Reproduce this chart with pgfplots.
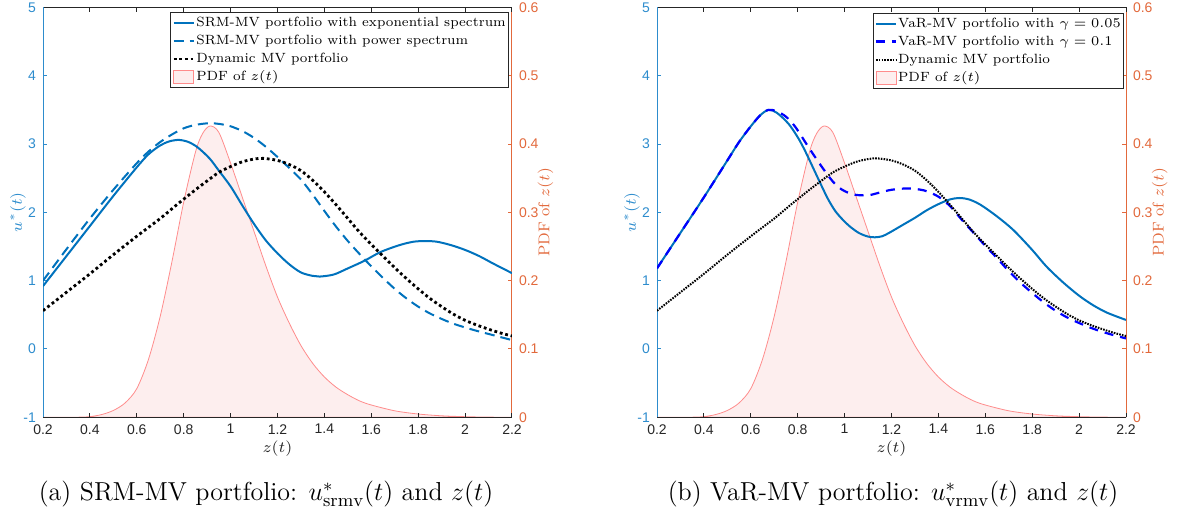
\RequirePackage{fix-cm}
\documentclass[border=0pt]{standalone}
\usepackage{fontspec}
\newfontfamily\helv{Liberation Sans}
\usepackage{pgfplots}
\usepackage{pgfplotstable}
\pgfplotsset{compat=1.18}

\definecolor{mblue}{rgb}{0,0.447,0.741}
\definecolor{axblue}{RGB}{45,140,205}
\definecolor{axorange}{RGB}{226,105,60}
\definecolor{axgray}{RGB}{38,38,38}
\definecolor{pdffill}{RGB}{253,238,238}
\definecolor{pdfedge}{RGB}{255,140,140}

\newcommand\tickfont{\helv\fontsize{7}{8}\selectfont}
\newcommand\labfont{\fontsize{7.8}{9}\selectfont}
\newcommand\legfont{\fontsize{6.7}{8}\selectfont}
\newcommand\capfont{\fontsize{13}{15}\selectfont}

% density of z(t)
\pgfplotstableread{
x y
0.20 0
0.35 0.0002
0.40 0.001
0.45 0.004
0.50 0.010
0.55 0.021
0.60 0.042
0.65 0.085
0.70 0.148
0.75 0.228
0.80 0.315
0.85 0.388
0.88 0.415
0.912 0.4264
0.95 0.417
1.00 0.372
1.05 0.322
1.10 0.272
1.15 0.222
1.20 0.176
1.25 0.138
1.30 0.105
1.35 0.079
1.40 0.059
1.45 0.044
1.50 0.033
1.55 0.024
1.60 0.018
1.70 0.0095
1.80 0.0048
1.90 0.0022
2.00 0.0009
2.10 0.0003
2.20 0
}\pdfdata

% dynamic MV portfolio
\pgfplotstableread{
x y
0.20 0.56
0.30 0.83
0.40 1.10
0.50 1.38
0.60 1.65
0.70 1.91
0.77 2.11
0.85 2.33
0.90 2.46
0.95 2.585
1.00 2.67
1.05 2.74
1.10 2.78
1.14 2.79
1.20 2.76
1.25 2.70
1.30 2.61
1.35 2.47
1.40 2.30
1.45 2.11
1.50 1.91
1.55 1.71
1.60 1.53
1.65 1.36
1.70 1.19
1.75 1.03
1.80 0.88
1.85 0.74
1.90 0.62
1.95 0.51
2.00 0.42
2.05 0.35
2.10 0.29
2.15 0.235
2.20 0.19
}\mvdata

\pgfplotsset{
  panel/.style={
    scale only axis, width=234.5pt, height=204.95pt, anchor=south west,
    xmin=0.2, xmax=2.2, tick align=inside, major tick length=2.2pt,
  },
  pdfaxis/.style={
    panel, ymin=0, ymax=0.6,
    axis x line=none, axis y line*=right,
    y axis line style={draw=axorange, line width=0.5pt, -},
    ytick={0,0.1,0.2,0.3,0.4,0.5,0.6},
    yticklabels={0,0.1,0.2,0.3,0.4,0.5,0.6},
    y tick style={draw=axorange, line width=0.5pt},
    yticklabel style={font=\tickfont, text=axorange},
    every axis y label/.style={at={(axis description cs:1,0.5)}, xshift=16.8pt,
      rotate=90, anchor=center, font=\labfont, text=axorange},
    ylabel={PDF of $z(t)$},
  },
  uaxis/.style={
    panel, ymin=-1, ymax=5,
    axis x line*=box, axis y line*=left, separate axis lines,
    x axis line style={draw=axgray, line width=0.5pt, -},
    y axis line style={draw=axblue, line width=0.5pt, -},
    xtick={0.2,0.4,0.6,0.8,1,1.2,1.4,1.6,1.8,2,2.2},
    xticklabels={0.2,0.4,0.6,0.8,1,1.2,1.4,1.6,1.8,2,2.2},
    x tick style={draw=axgray, line width=0.5pt},
    xticklabel style={font=\tickfont, text=axgray},
    ytick={-1,0,1,2,3,4,5},
    yticklabels={-1,0,1,2,3,4,5},
    y tick style={draw=axblue, line width=0.5pt},
    yticklabel style={font=\tickfont, text=axblue},
    every axis y label/.style={at={(axis description cs:0,0.5)}, xshift=-12.5pt,
      rotate=90, anchor=center, font=\labfont, text=axblue},
    ylabel={$u^*(t)$},
    every axis x label/.style={at={(axis description cs:0.5,0)}, yshift=-15.5pt,
      anchor=center, font=\labfont, text=axgray},
    xlabel={$z(t)$},
    legend cell align=left,
    legend image code/.code={\draw[#1] (0pt,0pt) -- (10pt,0pt);},
    legend style={at={(1,1)}, anchor=north east, draw=axgray, line width=0.5pt,
      fill=white, font=\legfont, inner xsep=0.75pt, inner ysep=0.75pt,
      row sep=0pt,
      nodes={inner ysep=0.85pt, inner xsep=0.6pt, text height=5.5pt, text depth=1.8pt}},
  },
  pdfplot/.style={fill=pdffill, draw=pdfedge, line width=0.4pt, smooth},
  pdflegend/.style={legend image code/.code={\draw[fill=pdffill, draw=pdfedge, line width=0.4pt] (0pt,-3.2pt) rectangle (10pt,3.2pt);}},
}

\begin{document}
\begin{tikzpicture}
\path[use as bounding box] (0,0) rectangle (589.5pt,262.5pt);

% ---------- (a) SRM-MV portfolio ----------
\begin{axis}[pdfaxis, at={(21.5pt,53.85pt)}]
\addplot[pdfplot] table[x=x,y=y] {\pdfdata} \closedcycle;
\end{axis}

\begin{axis}[uaxis, at={(21.5pt,53.85pt)},
  legend style={xshift=-1.5pt, yshift=-2.3pt}]
\addplot[mblue, line width=1pt, smooth] coordinates {
(0.20,0.92) (0.30,1.36) (0.40,1.80) (0.50,2.24) (0.60,2.66) (0.65,2.85)
(0.70,2.98) (0.74,3.04) (0.78,3.06) (0.82,3.03) (0.86,2.95) (0.91,2.79)
(0.95,2.61) (1.00,2.38) (1.05,2.10) (1.10,1.83) (1.15,1.59) (1.20,1.40)
(1.25,1.24) (1.30,1.12) (1.35,1.07) (1.38,1.06) (1.44,1.09) (1.50,1.18)
(1.57,1.29) (1.64,1.42) (1.72,1.52) (1.78,1.57) (1.83,1.58) (1.88,1.57)
(1.94,1.52) (2.00,1.45) (2.06,1.36) (2.12,1.25) (2.20,1.11)
};
\addlegendentry{SRM-MV portfolio with exponential spectrum}
\addplot[mblue, line width=1pt, dash pattern=on 5pt off 3pt, smooth] coordinates {
(0.20,1.00) (0.30,1.46) (0.40,1.91) (0.50,2.33) (0.60,2.72) (0.65,2.89)
(0.70,3.03) (0.75,3.14) (0.80,3.23) (0.85,3.28) (0.91,3.305) (0.96,3.29)
(1.00,3.26) (1.05,3.19) (1.10,3.09) (1.15,2.96) (1.20,2.81) (1.25,2.65)
(1.30,2.48) (1.35,2.26) (1.40,2.02) (1.45,1.79) (1.50,1.58) (1.55,1.39)
(1.60,1.21) (1.65,1.04) (1.70,0.88) (1.75,0.74) (1.80,0.62) (1.85,0.52)
(1.90,0.44) (1.95,0.37) (2.00,0.315) (2.05,0.265) (2.10,0.22) (2.15,0.175)
(2.20,0.13)
};
\addlegendentry{SRM-MV portfolio with power spectrum}
\addplot[black, line width=1.4pt, dash pattern=on 1.4pt off 1.4pt, smooth]
  table[x=x,y=y] {\mvdata};
\addlegendentry{Dynamic MV portfolio}
\addlegendimage{pdflegend}
\addlegendentry{PDF of $z(t)$}
\end{axis}

% ---------- (b) VaR-MV portfolio ----------
\begin{axis}[pdfaxis, at={(328.5pt,53.85pt)}]
\addplot[pdfplot] table[x=x,y=y] {\pdfdata} \closedcycle;
\end{axis}

\begin{axis}[uaxis, at={(328.5pt,53.85pt)},
  legend style={xshift=-1pt, yshift=-2.6pt}]
\addplot[mblue, line width=1pt, smooth] coordinates {
(0.20,1.18) (0.30,1.70) (0.40,2.22) (0.50,2.76) (0.55,3.03) (0.60,3.26)
(0.64,3.42) (0.675,3.50) (0.71,3.46) (0.76,3.30) (0.80,3.10) (0.83,2.91)
(0.87,2.62) (0.90,2.40) (0.93,2.19) (0.96,2.02) (0.99,1.90) (1.02,1.80)
(1.06,1.70) (1.10,1.645) (1.13,1.635) (1.16,1.65) (1.19,1.70) (1.25,1.82)
(1.30,1.92) (1.35,2.03) (1.40,2.12) (1.45,2.19) (1.49,2.21) (1.53,2.19)
(1.58,2.11) (1.65,1.94) (1.72,1.74) (1.80,1.45) (1.86,1.21) (1.93,0.98)
(2.00,0.78) (2.06,0.64) (2.12,0.53) (2.20,0.425)
};
\addlegendentry{VaR-MV portfolio with $\gamma = 0.05$}
\addplot[blue, line width=1.1pt, dash pattern=on 4.5pt off 3.5pt, smooth] coordinates {
(0.20,1.18) (0.30,1.70) (0.40,2.22) (0.50,2.76) (0.55,3.03) (0.60,3.26)
(0.64,3.42) (0.675,3.50) (0.71,3.48) (0.75,3.40) (0.79,3.25) (0.845,2.96)
(0.90,2.68) (0.95,2.45) (0.99,2.33) (1.04,2.26) (1.10,2.25) (1.15,2.29)
(1.20,2.33) (1.27,2.35) (1.34,2.32) (1.40,2.23) (1.45,2.09) (1.50,1.89)
(1.55,1.70) (1.60,1.51) (1.65,1.33) (1.70,1.14) (1.75,0.97) (1.80,0.82)
(1.85,0.68) (1.90,0.56) (1.95,0.46) (2.00,0.38) (2.05,0.31) (2.10,0.25)
(2.15,0.20) (2.20,0.155)
};
\addlegendentry{VaR-MV portfolio with $\gamma = 0.1$}
\addplot[black, line width=1pt, dash pattern=on 0.8pt off 0.6pt, smooth]
  table[x=x,y=y] {\mvdata};
\addlegendentry{Dynamic MV portfolio}
\addlegendimage{pdflegend}
\addlegendentry{PDF of $z(t)$}
\end{axis}

% sub-captions
\node[font=\capfont, anchor=center] at (133pt,15.5pt)
  {(a) SRM-MV portfolio: $u^*_{\mathrm{srmv}}(t)$ and $z(t)$};
\node[font=\capfont, anchor=center] at (446.5pt,15.5pt)
  {(b) VaR-MV portfolio: $u^*_{\mathrm{vrmv}}(t)$ and $z(t)$};
\end{tikzpicture}
\end{document}
